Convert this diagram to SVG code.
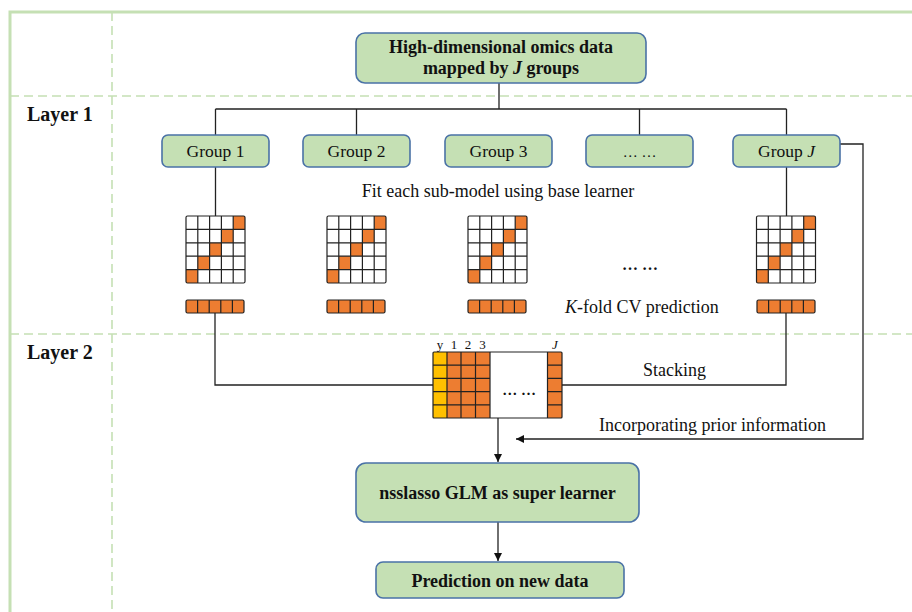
<svg xmlns="http://www.w3.org/2000/svg" width="912" height="612" viewBox="0 0 912 612">
  <style>
    text { font-family: "Liberation Serif", "Times New Roman", serif; fill: #111; }
    .b { font-weight: bold; }
    .node { fill: #c5e0b4; stroke: #4a72a6; stroke-width: 1.6; }
    .frame { fill: none; stroke: #c5e0b4; stroke-width: 3; }
    .dash { fill: none; stroke: #c5e0b4; stroke-width: 1.6; stroke-dasharray: 9 5; }
    .wire { fill: none; stroke: #222; stroke-width: 1.3; }
    .grid { fill: none; stroke: #222; stroke-width: 1.2; }
    .or { fill: #ed7d31; }
    .ye { fill: #ffc000; }
  </style>
  <defs>
    <marker id="arr" viewBox="0 0 10 10" refX="10" refY="5" markerWidth="8" markerHeight="8" markerUnits="userSpaceOnUse" orient="auto">
      <path d="M0,0 L10,5 L0,10 z" fill="#111"/>
    </marker>
    <!-- 5x5 sub-model matrix with anti-diagonal highlight -->
    <g id="mat">
      <rect x="0" y="0" width="59" height="67" fill="#fff"/>
      <rect class="or" x="47.2" y="0" width="11.8" height="13.4"/>
      <rect class="or" x="35.4" y="13.4" width="11.8" height="13.4"/>
      <rect class="or" x="23.6" y="26.8" width="11.8" height="13.4"/>
      <rect class="or" x="11.8" y="40.2" width="11.8" height="13.4"/>
      <rect class="or" x="0" y="53.6" width="11.8" height="13.4"/>
      <path class="grid" d="M11.8,0V67M23.6,0V67M35.4,0V67M47.2,0V67M0,13.4H59M0,26.8H59M0,40.2H59M0,53.6H59"/>
      <rect class="grid" x="0" y="0" width="59" height="67" rx="1.5"/>
    </g>
    <!-- CV prediction bar -->
    <g id="bar">
      <rect class="or" x="0" y="0" width="58" height="13" rx="1.5"/>
      <path class="grid" d="M11.6,0V13M23.2,0V13M34.8,0V13M46.4,0V13"/>
      <rect class="grid" x="0" y="0" width="58" height="13" rx="1.5"/>
    </g>
  </defs>

  <rect width="912" height="612" fill="#fff"/>

  <!-- layout frame -->
  <g id="frame">
    <rect class="frame" x="10" y="12" width="910" height="612"/>
    <line class="dash" x1="112" y1="12" x2="112" y2="612"/>
    <line class="dash" x1="10" y1="96" x2="912" y2="96"/>
    <line class="dash" x1="10" y1="334" x2="912" y2="334"/>
    <text class="b" x="27" y="121" font-size="20">Layer 1</text>
    <text class="b" x="27" y="359" font-size="20">Layer 2</text>
  </g>

  <!-- connectors -->
  <g id="connectors">
    <path class="wire" d="M499,83V109M215.5,109H786.5M215.5,109V135M356.5,109V135M639.5,109V135M786.5,109V135"/>
    <path class="wire" d="M215.5,167V216M786.5,167V216"/>
    <path class="wire" d="M215,313V385H433"/>
    <path class="wire" d="M786,313V385H562"/>
    <path class="wire" d="M498,418V462" marker-end="url(#arr)"/>
    <path class="wire" d="M840,144H863V439H516" marker-end="url(#arr)"/>
    <path class="wire" d="M498,522V561" marker-end="url(#arr)"/>
  </g>

  <g id="data">
    <rect class="node" x="356" y="33" width="290" height="50" rx="9"/>
    <text class="b" x="501" y="53" font-size="18" text-anchor="middle">High-dimensional omics data</text>
    <text class="b" x="501" y="74" font-size="18" text-anchor="middle">mapped by <tspan font-style="italic">J</tspan> groups</text>
  </g>

  <g id="group1">
    <rect class="node" x="162" y="135" width="107" height="32" rx="6"/>
    <text x="215.5" y="157" font-size="17.5" text-anchor="middle">Group 1</text>
  </g>
  <g id="group2">
    <rect class="node" x="303" y="135" width="107" height="32" rx="6"/>
    <text x="356.5" y="157" font-size="17.5" text-anchor="middle">Group 2</text>
  </g>
  <g id="group3">
    <rect class="node" x="445" y="135" width="107" height="32" rx="6"/>
    <text x="498.5" y="157" font-size="17.5" text-anchor="middle">Group 3</text>
  </g>
  <g id="groupdots">
    <rect class="node" x="586" y="135" width="107" height="32" rx="6"/>
    <text x="639.5" y="157" font-size="15" text-anchor="middle">… …</text>
  </g>
  <g id="groupJ">
    <rect class="node" x="733" y="135" width="107" height="32" rx="6"/>
    <text x="786.5" y="157" font-size="17.5" text-anchor="middle">Group <tspan font-style="italic">J</tspan></text>
  </g>

  <text x="498" y="197" font-size="18" text-anchor="middle">Fit each sub-model using base learner</text>

  <g id="submodels">
    <use href="#mat" x="186" y="216"/>
    <use href="#mat" x="327" y="216"/>
    <use href="#mat" x="468" y="216"/>
    <use href="#mat" x="756.5" y="216"/>
    <text class="b" x="640" y="270" font-size="16" text-anchor="middle">… …</text>
  </g>

  <g id="cvpreds">
    <use href="#bar" x="186" y="300"/>
    <use href="#bar" x="327" y="300"/>
    <use href="#bar" x="468" y="300"/>
    <use href="#bar" x="757" y="300"/>
    <text x="565" y="313" font-size="18"><tspan font-style="italic">K</tspan>-fold CV prediction</text>
  </g>

  <!-- stacked prediction matrix -->
  <g id="stack">
    <rect x="433" y="352" width="129" height="66" fill="#fff"/>
    <rect class="ye" x="433" y="352" width="14" height="66"/>
    <rect class="or" x="447" y="352" width="43" height="66"/>
    <rect class="or" x="547.5" y="352" width="14.5" height="66"/>
    <path class="grid" d="M447,352V418M461,352V418M475.5,352V418M490,352V418M547.5,352V418M433,365.2H490M433,378.4H490M433,391.6H490M433,404.8H490M547.5,365.2H562M547.5,378.4H562M547.5,391.6H562M547.5,404.8H562"/>
    <rect class="grid" x="433" y="352" width="129" height="66" rx="1"/>
    <text x="440" y="349" font-size="13" text-anchor="middle">y</text>
    <text x="454" y="349" font-size="13" text-anchor="middle">1</text>
    <text x="468" y="349" font-size="13" text-anchor="middle">2</text>
    <text x="482.5" y="349" font-size="13" text-anchor="middle">3</text>
    <text x="555" y="349" font-size="13" font-style="italic" text-anchor="middle">J</text>
    <text class="b" x="519" y="395" font-size="15" text-anchor="middle">… …</text>
  </g>

  <text x="643" y="376" font-size="18">Stacking</text>
  <text x="599" y="431" font-size="18">Incorporating prior information</text>

  <g id="superlearner">
    <rect class="node" x="356" y="463" width="283" height="59" rx="10"/>
    <text class="b" x="497.5" y="499" font-size="18" text-anchor="middle">nsslasso GLM as super learner</text>
  </g>

  <g id="prediction">
    <rect class="node" x="376" y="562" width="248" height="36" rx="7"/>
    <text class="b" x="500" y="587" font-size="18" text-anchor="middle">Prediction on new data</text>
  </g>
</svg>
